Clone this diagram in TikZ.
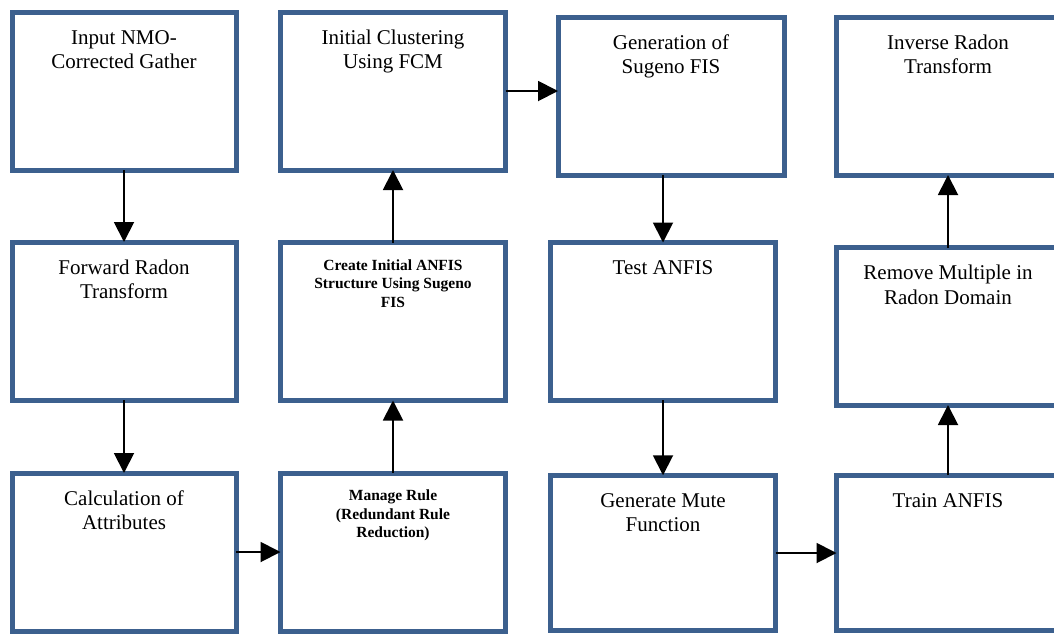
\documentclass[tikz,border=0pt]{standalone}
\usepackage{fontspec}
\setmainfont{Liberation Serif}
\usepackage{xcolor}
\usetikzlibrary{arrows.meta,positioning}
\definecolor{boxblue}{RGB}{60,96,142}

\begin{document}
\begin{tikzpicture}[x=1pt,y=1pt,
    box/.style={draw=boxblue, line width=5pt, minimum width=224pt, minimum height=158pt, inner sep=0pt, outer sep=0pt},
    txt/.style={align=center, inner sep=0pt, font=\fontsize{21}{24.5}\selectfont},
    btxt/.style={align=center, inner sep=0pt, font=\fontsize{15.5}{18.5}\selectfont\bfseries},
    flow/.style={-{Triangle[length=20pt,width=20pt]}, line width=1.9pt}]
\useasboundingbox (0,0) rectangle (1054,-633);
\clip (0,0) rectangle (1054,-633);
% boxes
\node[box] (gather) at (124,-91) {};
\node[box] (forward) at (124,-321) {};
\node[box] (attrib) at (124,-552) {};
\node[box, minimum width=225pt] (cluster) at (393,-91) {};
\node[box, minimum width=225pt] (create) at (393,-321.5) {};
\node[box, minimum width=225pt] (manage) at (393,-552) {};
\node[box, minimum width=226pt] (sugeno) at (671,-96) {};
\node[box, minimum width=225pt, minimum height=157.5pt] (test) at (663,-321.25) {};
\node[box, minimum width=225pt, minimum height=155.5pt] (mute) at (663,-553) {};
\node[box, minimum width=223pt] (inverse) at (948,-96) {};
\node[box, minimum width=223pt, minimum height=157.5pt] (remove) at (948,-326.25) {};
\node[box, minimum width=223pt, minimum height=155.5pt] (train) at (948,-553) {};
% texts
\node[txt, below=14.8pt of gather.north] (gathertxt) {\strut Input NMO-\\Corrected Gather};
\node[txt, below=14.8pt of forward.north] (forwardtxt) {\strut Forward Radon\\Transform};
\node[txt, below=14.8pt of attrib.north] (attribtxt) {\strut Calculation of\\Attributes};
\node[txt, below=14.8pt of cluster.north] (clustertxt) {\strut Initial Clustering\\Using FCM};
\node[btxt, below=14.5pt of create.north] (createtxt) {\strut Create Initial ANFIS\\Structure Using Sugeno\\FIS};
\node[btxt, below=14.5pt of manage.north] (managetxt) {\strut Manage Rule\\(Redundant Rule\\Reduction)};
\node[txt, below=14.8pt of sugeno.north] (sugenotxt) {\strut Generation of\\Sugeno FIS};
\node[txt, below=14.8pt of test.north] (testtxt) {\strut Test ANFIS};
\node[txt, below=14.8pt of mute.north] (mutetxt) {\strut Generate Mute\\Function};
\node[txt, below=14.8pt of inverse.north] (inversetxt) {\strut Inverse Radon\\Transform};
\node[txt, below=14.8pt of remove.north] (removetxt) {\strut Remove Multiple in\\Radon Domain};
\node[txt, below=14.8pt of train.north] (traintxt) {\strut Train ANFIS};
% arrows
\draw[flow] (gather) -- (forward);
\draw[flow] (forward) -- (attrib);
\draw[flow] (attrib) -- (manage);
\draw[flow] (manage) -- (create);
\draw[flow] (create) -- (cluster);
\draw[flow] (cluster.east) -- (cluster.east -| sugeno.west);
\draw[flow] (sugeno.south -| test.north) -- (test.north);
\draw[flow] (test) -- (mute);
\draw[flow] (mute) -- (train);
\draw[flow] (train) -- (remove);
\draw[flow] (remove) -- (inverse);
\end{tikzpicture}
\end{document}
